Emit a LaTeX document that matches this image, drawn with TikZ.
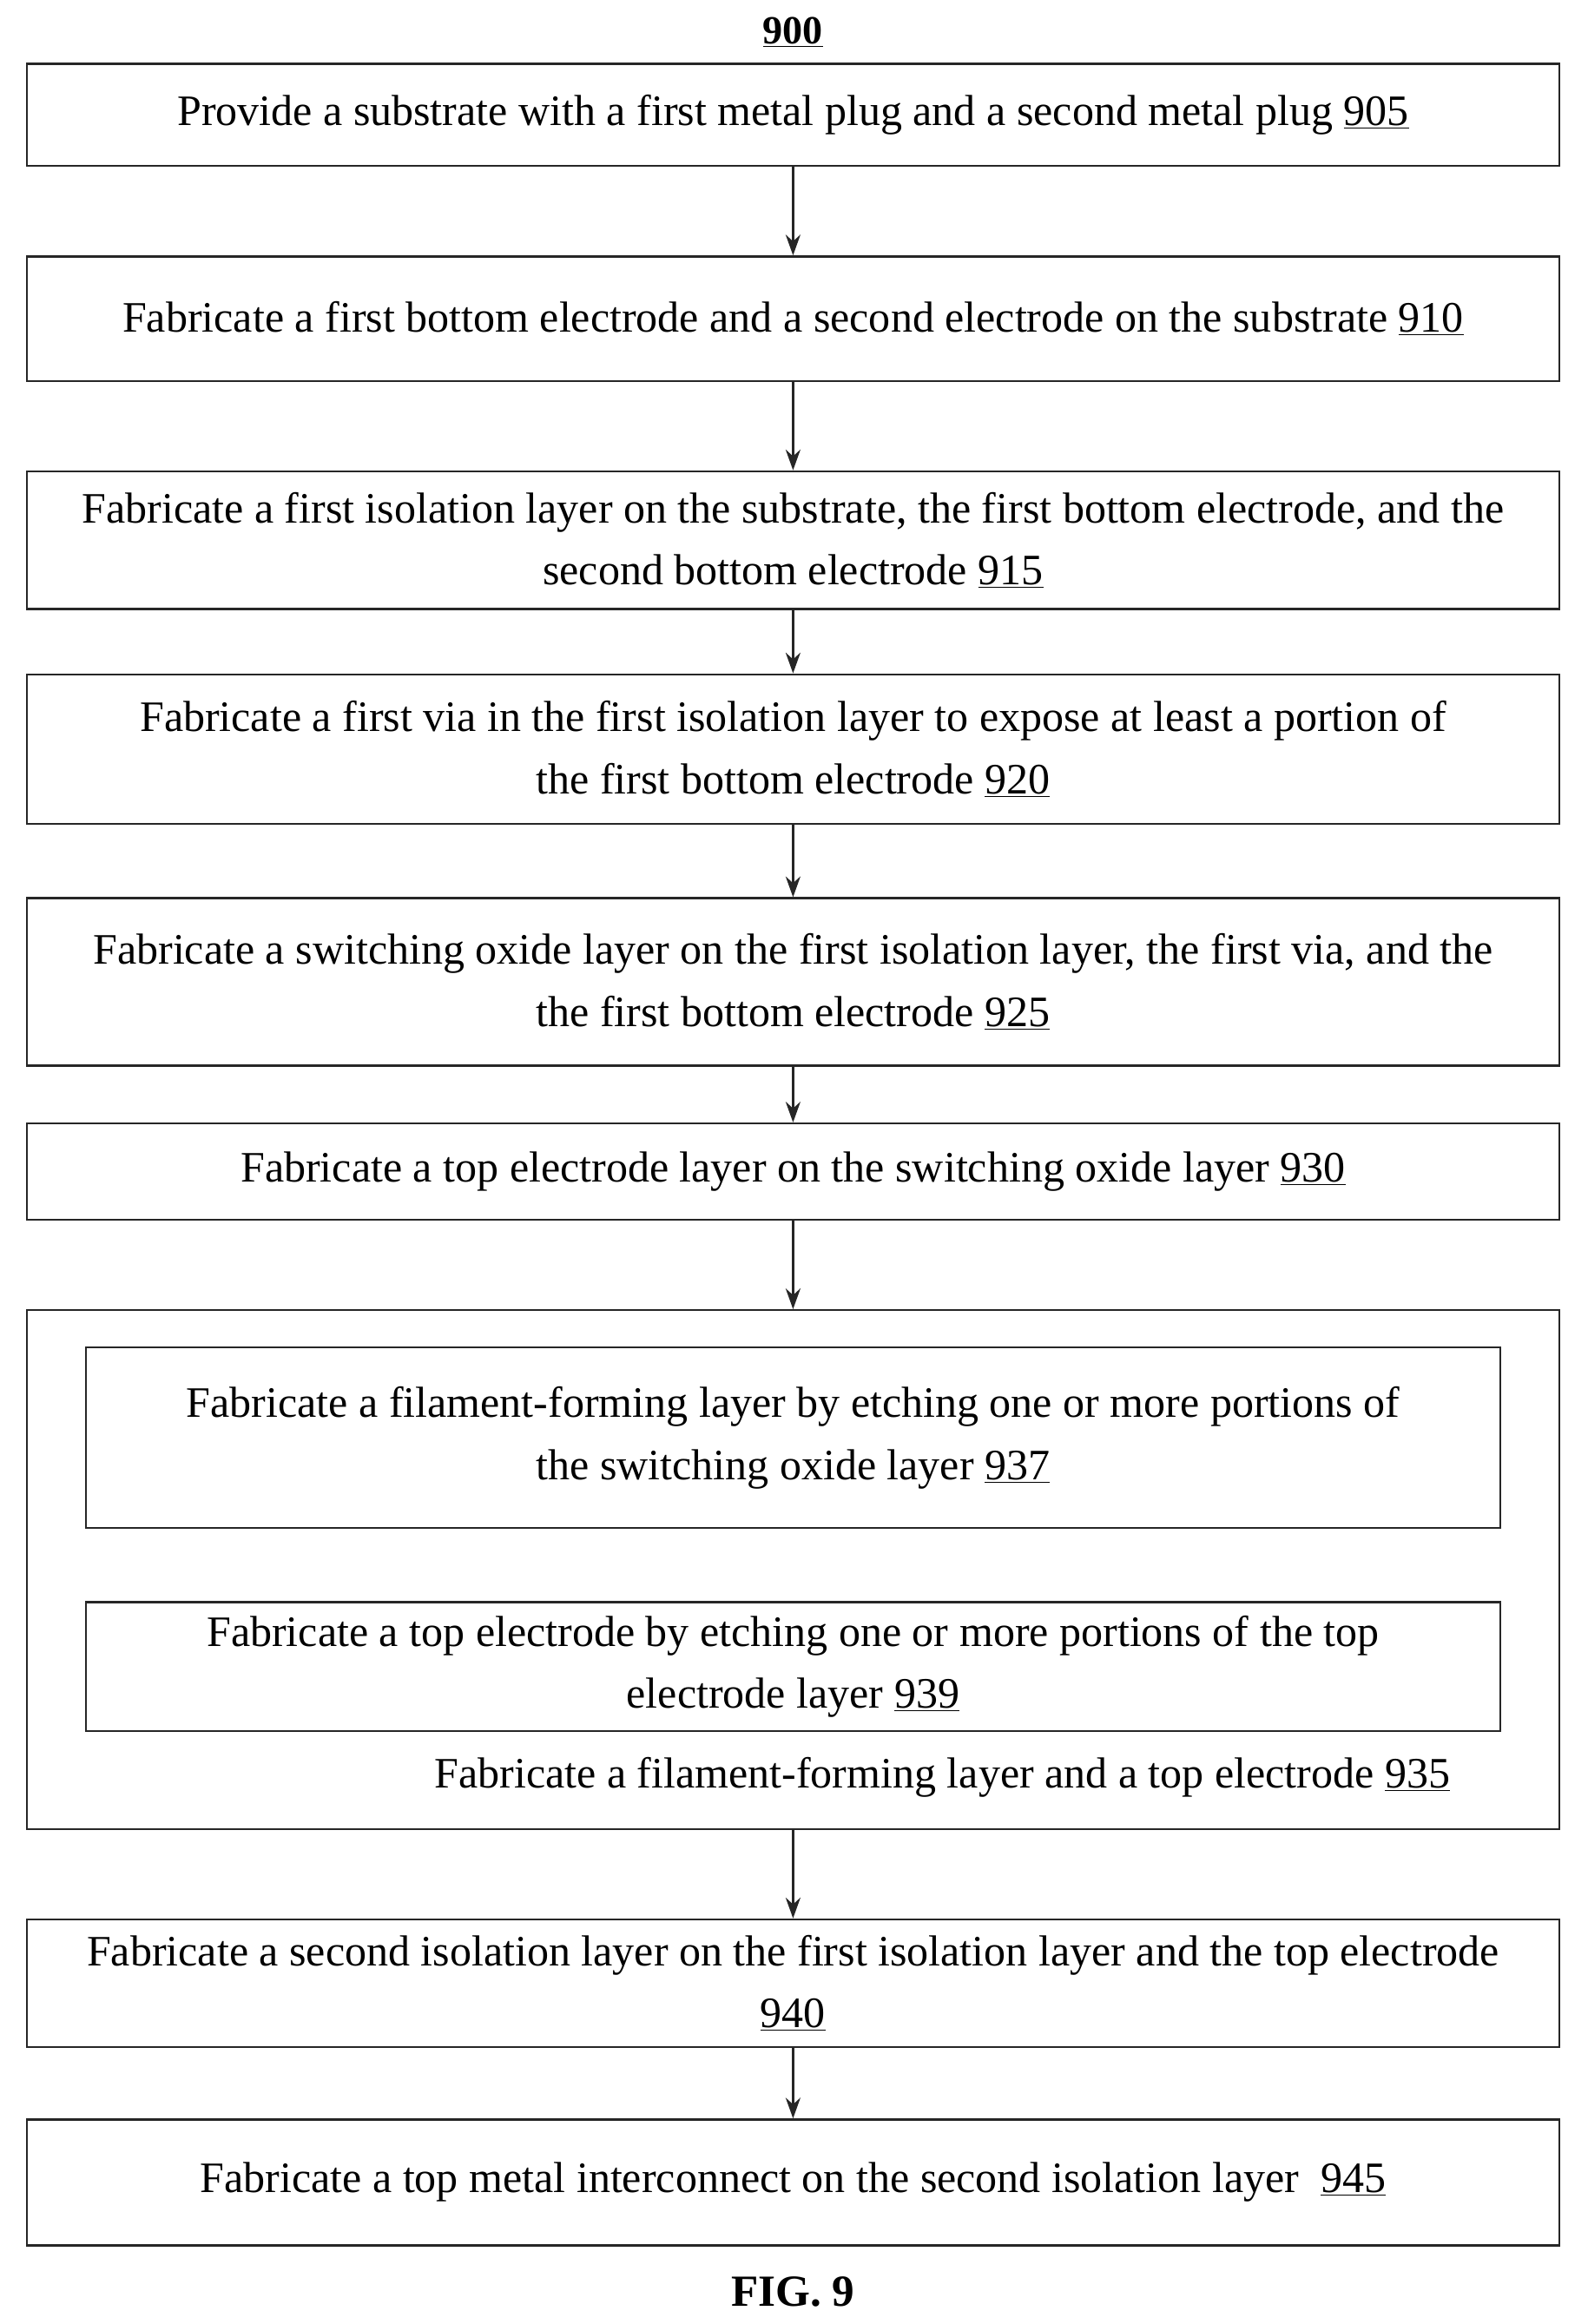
\documentclass[tikz,border=0pt]{standalone}
\usepackage{fontspec}
\setmainfont{Liberation Serif}
\usetikzlibrary{arrows.meta}
\begin{document}
\begin{tikzpicture}[x=1pt,y=1pt,
 box/.style={draw=black!85,line width=1.4pt,minimum width=1034pt,align=center,inner sep=0pt,font=\fontsize{29.3}{42}\selectfont},
 ibox/.style={box,minimum width=954pt},
 lab/.style={font=\fontsize{29.3}{42}\selectfont,inner sep=0pt},
 arr/.style={-{Stealth[length=14pt,width=10pt]},line width=1.4pt,draw=black!85}]
\useasboundingbox (0,0) rectangle (1071,-1568);
\node[lab,font=\bfseries\fontsize{27}{30}\selectfont] (t) at (535,-22) {\underline{900}};
\node[box,minimum height=69pt] (b1) at (535,-77.5) {Provide a substrate with a first metal plug and a second metal plug \underline{905}};
\node[box,minimum height=84pt] (b2) at (535,-215) {Fabricate a first bottom electrode and a second electrode on the substrate \underline{910}};
\node[box,minimum height=93pt] (b3) at (535,-364.5) {Fabricate a first isolation layer on the substrate, the first bottom electrode, and the\\second bottom electrode \underline{915}};
\node[box,minimum height=101pt] (b4) at (535,-505.5) {Fabricate a first via in the first isolation layer to expose at least a portion of\\the first bottom electrode \underline{920}};
\node[box,minimum height=113pt] (b5) at (535,-662.5) {Fabricate a switching oxide layer on the first isolation layer, the first via, and the\\the first bottom electrode \underline{925}};
\node[box,minimum height=65pt] (b6) at (535,-790.5) {Fabricate a top electrode layer on the switching oxide layer \underline{930}};
\node[box,minimum height=350pt] (b7) at (535,-1059) {};
\node[ibox,minimum height=122pt] (i1) at (535,-970) {Fabricate a filament-forming layer by etching one or more portions of\\the switching oxide layer \underline{937}};
\node[ibox,minimum height=87pt] (i2) at (535,-1124.5) {Fabricate a top electrode by etching one or more portions of the top\\electrode layer \underline{939}};
\node[lab,anchor=west] (l935) at (293,-1199) {Fabricate a filament-forming layer and a top electrode \underline{935}};
\node[box,minimum height=86pt] (b8) at (535,-1338) {Fabricate a second isolation layer on the first isolation layer and the top electrode\\\underline{940}};
\node[box,minimum height=85pt] (b9) at (535,-1472.5) {Fabricate a top metal interconnect on the second isolation layer\ \ \underline{945}};
\node[lab,font=\bfseries\fontsize{30}{32}\selectfont] (fig) at (535,-1546) {FIG. 9};
\draw[arr] (b1.south) -- (b2.north);
\draw[arr] (b2.south) -- (b3.north);
\draw[arr] (b3.south) -- (b4.north);
\draw[arr] (b4.south) -- (b5.north);
\draw[arr] (b5.south) -- (b6.north);
\draw[arr] (b6.south) -- (b7.north);
\draw[arr] (b7.south) -- (b8.north);
\draw[arr] (b8.south) -- (b9.north);
\end{tikzpicture}
\end{document}
